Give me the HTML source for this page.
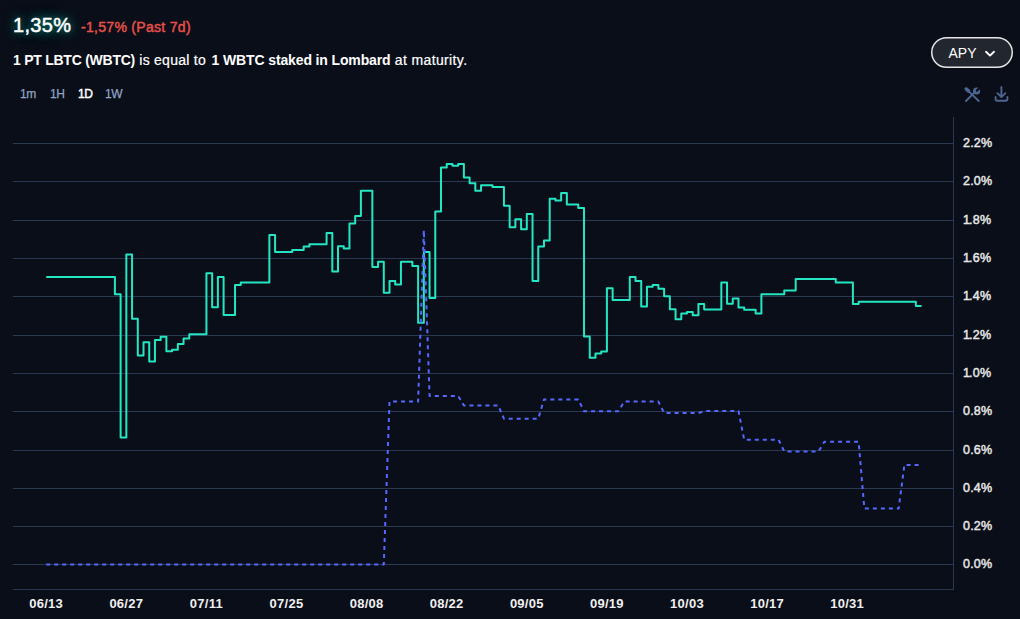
<!DOCTYPE html>
<html><head><meta charset="utf-8">
<style>
html,body{margin:0;padding:0;}
body{width:1020px;height:619px;background:#0a0e18;overflow:hidden;position:relative;font-family:"Liberation Sans",sans-serif;color:#fff;}
.big{position:absolute;left:13px;top:13.5px;font-size:20px;letter-spacing:0.3px;color:#fff;-webkit-text-stroke:0.5px #fff;text-shadow:0 0 6px rgba(20,210,185,0.4),0 0 12px rgba(20,200,180,0.6),0 0 20px rgba(20,200,180,0.4);white-space:nowrap;}
.chg{position:absolute;left:81px;top:19px;font-size:14px;letter-spacing:0.3px;color:#e6504b;-webkit-text-stroke:0.45px #e6504b;white-space:nowrap;}
.desc{position:absolute;left:13px;top:52px;font-size:14px;color:#fff;white-space:nowrap;}
.desc b{position:absolute;top:0;font-weight:bold;}.desc span{position:absolute;top:0;-webkit-text-stroke:0.2px #fff;}
.tf{position:absolute;top:87px;font-size:12px;letter-spacing:-0.3px;color:#8fa3c6;-webkit-text-stroke:0.25px #8fa3c6;white-space:nowrap;}
.tf.on{color:#fff;-webkit-text-stroke:0.45px #fff;}
.apy{position:absolute;left:931px;top:37px;width:82px;height:31px;}
.apy span{position:absolute;left:17.5px;top:7.7px;font-size:14px;color:#fff;}
.yl{position:absolute;left:963px;font-size:12.5px;color:#e8e8e8;-webkit-text-stroke:0.45px #e8e8e8;letter-spacing:0.2px;white-space:nowrap;}
.xl{position:absolute;top:596px;width:60px;text-align:center;font-size:13px;font-weight:bold;letter-spacing:0.25px;color:#f0f0f0;}
svg{position:absolute;left:0;top:0;}
</style></head><body>
<div class="big">1,35%</div>
<div class="chg">-1,57% (Past 7d)</div>
<div class="desc"><b style="left:0px;letter-spacing:-0.25px">1 PT LBTC (WBTC)</b><span style="left:126.3px;letter-spacing:0.26px">is equal to</span><b style="left:198.6px;letter-spacing:-0.13px">1 WBTC staked in Lombard</b><span style="left:381.8px;letter-spacing:0.37px">at maturity.</span></div>
<div class="tf" style="left:20px">1m</div>
<div class="tf" style="left:50px">1H</div>
<div class="tf on" style="left:78px">1D</div>
<div class="tf" style="left:105px">1W</div>
<div class="apy"><svg style="left:0;top:0" width="82" height="31" viewBox="0 0 82 31"><rect x="0.75" y="0.75" width="80.5" height="29.5" rx="14.75" fill="#22262f" stroke="#e6e6e6" stroke-width="1.5"/></svg><span>APY</span>
<svg style="left:53px;top:11.5px" width="12" height="10" viewBox="0 0 12 10"><path d="M2 2.8 L6 6.6 L10 2.8" stroke="#fff" stroke-width="1.9" fill="none" stroke-linecap="round" stroke-linejoin="round"/></svg>
</div>
<svg style="left:960px;top:82px" width="55" height="24" viewBox="960 82 55 24">
<g stroke="#4d6591" stroke-width="1.9" fill="none" stroke-linecap="round">
<path d="M969.8 92.4 L978.7 101"/>
<path d="M966 101 L974.3 92.7"/>
</g>
<path d="M964.6 88.2 Q965.5 86.8 967.2 87.6 L969.6 89.6 Q970.6 90.8 970.2 92.2 L969.5 92.9 Q968.2 93.2 967.1 92.2 L965.1 90.2 Q964.2 89.2 964.6 88.2 Z" fill="#4d6591"/>
<circle cx="976.6" cy="91" r="3.6" fill="#4d6591"/>
<path d="M976.9 90.6 L980.8 86.7" stroke="#0a0e17" stroke-width="2.2" stroke-linecap="round"/>
<path d="M1001.4 87 V96.4 M997.4 93.2 L1001.4 97.2 L1005.4 93.2 M995.6 97 V99 Q995.6 100.8 997.4 100.8 H1005.6 Q1007.4 100.8 1007.4 99 V97" stroke="#4d6591" stroke-width="1.9" fill="none" stroke-linecap="round" stroke-linejoin="round"/>
</svg>
<svg width="1020" height="619" viewBox="0 0 1020 619">
<rect x="13" y="143" width="940" height="1" fill="#2a3852"/><rect x="13" y="181" width="940" height="1" fill="#2a3852"/><rect x="13" y="220" width="940" height="1" fill="#2a3852"/><rect x="13" y="258" width="940" height="1" fill="#2a3852"/><rect x="13" y="296" width="940" height="1" fill="#2a3852"/><rect x="13" y="335" width="940" height="1" fill="#2a3852"/><rect x="13" y="373" width="940" height="1" fill="#2a3852"/><rect x="13" y="411" width="940" height="1" fill="#2a3852"/><rect x="13" y="450" width="940" height="1" fill="#2a3852"/><rect x="13" y="488" width="940" height="1" fill="#2a3852"/><rect x="13" y="526" width="940" height="1" fill="#2a3852"/><rect x="13" y="564" width="940" height="1" fill="#2a3852"/>
<rect x="953" y="117" width="1" height="473" fill="#2a3852"/>
<rect x="13" y="589" width="941" height="1" fill="#2a3852"/>
<path d="M46.25 276.90 L114.90 276.90 L114.90 294.30 L120.62 294.30 L120.62 437.60 L126.34 437.60 L126.34 254.50 L132.06 254.50 L132.06 318.70 L137.79 318.70 L137.79 355.60 L143.51 355.60 L143.51 342.30 L149.23 342.30 L149.23 361.50 L154.95 361.50 L154.95 340.00 L160.67 340.00 L160.67 336.80 L166.39 336.80 L166.39 351.30 L172.11 351.30 L172.11 349.70 L177.83 349.70 L177.83 344.00 L183.55 344.00 L183.55 338.40 L189.28 338.40 L189.28 334.30 L206.44 334.30 L206.44 273.30 L212.16 273.30 L212.16 307.20 L217.88 307.20 L217.88 276.90 L223.60 276.90 L223.60 315.10 L235.04 315.10 L235.04 284.90 L240.76 284.90 L240.76 282.40 L269.37 282.40 L269.37 234.90 L275.09 234.90 L275.09 251.90 L292.25 251.90 L292.25 250.10 L303.69 250.10 L303.69 246.50 L309.42 246.50 L309.42 244.20 L326.58 244.20 L326.58 232.90 L332.30 232.90 L332.30 271.40 L338.02 271.40 L338.02 246.20 L343.74 246.20 L343.74 248.50 L349.46 248.50 L349.46 223.40 L355.18 223.40 L355.18 215.90 L360.91 215.90 L360.91 190.70 L372.35 190.70 L372.35 267.10 L378.07 267.10 L378.07 261.70 L383.79 261.70 L383.79 292.70 L389.51 292.70 L389.51 281.00 L395.23 281.00 L395.23 284.50 L400.95 284.50 L400.95 261.70 L412.39 261.70 L412.39 265.90 L418.12 265.90 L418.12 322.70 L423.84 322.70 L423.84 252.00 L429.56 252.00 L429.56 298.10 L435.28 298.10 L435.28 211.50 L441.00 211.50 L441.00 167.40 L446.72 167.40 L446.72 164.00 L452.44 164.00 L452.44 165.80 L458.16 165.80 L458.16 164.00 L463.88 164.00 L463.88 177.60 L469.60 177.60 L469.60 183.30 L475.32 183.30 L475.32 190.70 L481.05 190.70 L481.05 185.20 L492.49 185.20 L492.49 187.00 L503.93 187.00 L503.93 205.70 L509.65 205.70 L509.65 227.20 L515.37 227.20 L515.37 219.30 L521.09 219.30 L521.09 229.30 L526.81 229.30 L526.81 214.10 L532.54 214.10 L532.54 280.90 L538.26 280.90 L538.26 246.50 L543.98 246.50 L543.98 240.60 L549.70 240.60 L549.70 198.70 L555.42 198.70 L555.42 200.50 L561.14 200.50 L561.14 193.10 L566.86 193.10 L566.86 204.40 L578.30 204.40 L578.30 208.00 L584.02 208.00 L584.02 336.50 L589.75 336.50 L589.75 357.70 L595.47 357.70 L595.47 353.40 L601.19 353.40 L601.19 351.60 L606.91 351.60 L606.91 288.30 L612.63 288.30 L612.63 300.00 L629.79 300.00 L629.79 277.00 L635.51 277.00 L635.51 281.00 L641.23 281.00 L641.23 306.40 L646.96 306.40 L646.96 286.70 L652.68 286.70 L652.68 284.90 L658.40 284.90 L658.40 288.70 L664.12 288.70 L664.12 296.20 L669.84 296.20 L669.84 309.30 L675.56 309.30 L675.56 319.30 L681.28 319.30 L681.28 313.60 L687.00 313.60 L687.00 312.00 L692.72 312.00 L692.72 315.30 L698.44 315.30 L698.44 304.10 L704.16 304.10 L704.16 309.50 L721.33 309.50 L721.33 282.50 L727.05 282.50 L727.05 303.80 L732.77 303.80 L732.77 298.40 L738.49 298.40 L738.49 307.40 L744.21 307.40 L744.21 309.70 L755.65 309.70 L755.65 313.50 L761.38 313.50 L761.38 294.30 L784.26 294.30 L784.26 290.50 L795.70 290.50 L795.70 279.10 L835.75 279.10 L835.75 282.50 L852.91 282.50 L852.91 304.00 L858.63 304.00 L858.63 301.80 L915.84 301.80 L915.84 306.10 L921.56 306.10" stroke="#25e6c3" stroke-width="2" fill="none" stroke-linejoin="round"/>
<path d="M46.25 564.40 L383.79 564.40 L389.51 401.60 L418.12 401.60 L423.84 230.00 L429.56 395.90 L458.16 395.90 L463.88 405.40 L498.21 405.40 L503.93 418.70 L538.26 418.70 L543.98 399.50 L578.30 399.50 L584.02 411.20 L618.35 411.20 L624.07 401.60 L658.40 401.60 L664.12 413.00 L698.44 413.00 L704.16 411.10 L738.49 411.10 L744.21 439.70 L778.54 439.70 L784.26 451.40 L818.59 451.40 L824.31 441.80 L858.63 441.80 L864.35 508.50 L898.68 508.50 L904.40 464.90 L921.56 464.90" stroke="#5468ff" stroke-width="2" fill="none" stroke-dasharray="4 4" stroke-linejoin="round"/>
</svg>
<div class="yl" style="top:136px">2.2%</div><div class="yl" style="top:174px">2.0%</div><div class="yl" style="top:213px"><span style="letter-spacing:-0.9px">1</span>.8%</div><div class="yl" style="top:251px"><span style="letter-spacing:-0.9px">1</span>.6%</div><div class="yl" style="top:289px"><span style="letter-spacing:-0.9px">1</span>.4%</div><div class="yl" style="top:328px"><span style="letter-spacing:-0.9px">1</span>.2%</div><div class="yl" style="top:366px"><span style="letter-spacing:-0.9px">1</span>.0%</div><div class="yl" style="top:404px">0.8%</div><div class="yl" style="top:443px">0.6%</div><div class="yl" style="top:481px">0.4%</div><div class="yl" style="top:519px">0.2%</div><div class="yl" style="top:557px">0.0%</div>
<div class="xl" style="left:16.2px">06/13</div><div class="xl" style="left:96.3px">06/27</div><div class="xl" style="left:176.4px">07/11</div><div class="xl" style="left:256.5px">07/25</div><div class="xl" style="left:336.6px">08/08</div><div class="xl" style="left:416.7px">08/22</div><div class="xl" style="left:496.8px">09/05</div><div class="xl" style="left:576.9px">09/19</div><div class="xl" style="left:657.0px">10/03</div><div class="xl" style="left:737.1px">10/17</div><div class="xl" style="left:817.2px">10/31</div>
</body></html>
